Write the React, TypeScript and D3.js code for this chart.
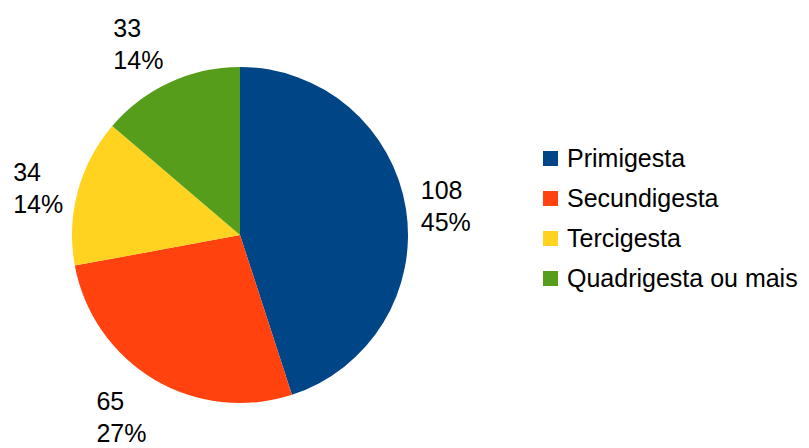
import React, { useEffect, useRef } from "react";
import * as d3 from "d3";

const categories = ["Primigesta", "Secundigesta", "Tercigesta", "Quadrigesta ou mais"];
const values = [108, 65, 34, 33];
const percentLabels = ["45%", "27%", "14%", "14%"];
const colors = ["#004586", "#ff420e", "#ffd320", "#579d1c"];

const W = 809;
const H = 448;
const FONT = "'Liberation Sans', Arial, sans-serif";
const FS = 25;

export default function App() {
  const ref = useRef<SVGSVGElement | null>(null);

  useEffect(() => {
    const svg = d3.select(ref.current);
    svg.selectAll("*").remove();
    const cx = 240, cy = 235, R = 168;

    const pie = d3.pie<number>().sort(null).value((d) => d)(values);
    const arc = d3.arc<d3.PieArcDatum<number>>().innerRadius(0).outerRadius(R);

    const g = svg.append("g").attr("transform", `translate(${cx},${cy})`);
    g.selectAll("path")
      .data(pie)
      .join("path")
      .attr("d", arc as any)
      .attr("fill", (_, i) => colors[i]);

    // labels
    const capH = FS * 0.716;
    const lineGap = 32;
    const thr = Math.sin(Math.PI / 8);
    pie.forEach((p, i) => {
      const t = svg
        .append("text")
        .attr("font-family", FONT)
        .attr("font-size", FS)
        .attr("fill", "#000");
      const l1 = t.append("tspan").text(String(values[i]));
      const l2 = t.append("tspan").text(percentLabels[i]);
      const w = Math.max(
        (l1.node() as SVGTSpanElement).getComputedTextLength(),
        (l2.node() as SVGTSpanElement).getComputedTextLength()
      );
      const h = capH + lineGap;
      const a = (p.startAngle + p.endAngle) / 2;
      const dx = Math.sin(a), dy = -Math.cos(a);
      const r = R + 15;
      const ax = cx + dx * r, ay = cy + dy * r;
      let x0: number;
      if (dx > thr) x0 = ax;
      else if (dx < -thr) x0 = ax - w;
      else x0 = ax - w / 2;
      let top: number;
      if (dy > thr) top = ay;
      else if (dy < -thr) top = ay - h;
      else top = ay - h / 2;
      const y0 = top + capH;
      l1.attr("x", x0).attr("y", y0);
      l2.attr("x", x0).attr("y", y0 + lineGap);
    });

    // legend
    const legendY = d3.scaleBand<string>().domain(categories).range([147, 307]);
    const lg = svg.append("g");
    categories.forEach((c, i) => {
      const y = legendY(c) as number;
      lg.append("rect")
        .attr("x", 543).attr("y", y + 4).attr("width", 15).attr("height", 15)
        .attr("fill", colors[i]);
      lg.append("text")
        .attr("x", 567).attr("y", y + 20)
        .attr("font-family", FONT).attr("font-size", FS)
        .attr("fill", "#000")
        .text(c);
    });
  }, []);

  return (
    <svg
      ref={ref}
      width={W}
      height={H}
      style={{ position: "absolute", left: 0, top: 0, background: "#fff" }}
    />
  );
}
